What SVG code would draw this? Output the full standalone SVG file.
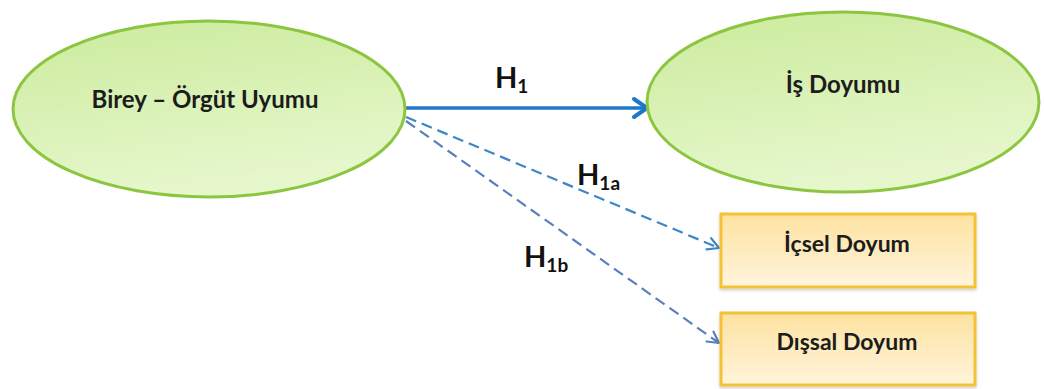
<svg xmlns="http://www.w3.org/2000/svg" width="1044" height="389" viewBox="0 0 1044 389">
  <defs>
    <linearGradient id="greenFill" x1="0" y1="0" x2="0.3" y2="1">
      <stop offset="0" stop-color="#cbeb9c"/>
      <stop offset="1" stop-color="#e6f7cc"/>
    </linearGradient>
    <linearGradient id="yellowFill" x1="0" y1="0" x2="0" y2="1">
      <stop offset="0" stop-color="#fde2a0"/>
      <stop offset="1" stop-color="#fff4dc"/>
    </linearGradient>
    <!-- open chevron heads, drawn in user units with the tip at the origin -->
    <marker id="arrowSolid" viewBox="-16 -12 20 24" refX="0" refY="0" markerWidth="20" markerHeight="24" markerUnits="userSpaceOnUse" orient="auto">
      <path d="M-13,-9 L0,0 L-13,9" fill="none" stroke="#1f77c9" stroke-width="4" stroke-linecap="round" stroke-linejoin="round"/>
    </marker>
    <marker id="arrowDashA" viewBox="-14 -10 17 20" refX="0" refY="0" markerWidth="17" markerHeight="20" markerUnits="userSpaceOnUse" orient="auto">
      <path d="M-11,-6 L0,0 L-11,6" fill="none" stroke="#3f86c6" stroke-width="2.2" stroke-linecap="round" stroke-linejoin="round"/>
    </marker>
    <marker id="arrowDashB" viewBox="-14 -10 17 20" refX="0" refY="0" markerWidth="17" markerHeight="20" markerUnits="userSpaceOnUse" orient="auto">
      <path d="M-11,-6 L0,0 L-11,6" fill="none" stroke="#5a7fbd" stroke-width="2.2" stroke-linecap="round" stroke-linejoin="round"/>
    </marker>
    <filter id="shadow" x="-10%" y="-10%" width="120%" height="130%">
      <feDropShadow dx="0" dy="2" stdDeviation="1.5" flood-color="#000" flood-opacity="0.18"/>
    </filter>
  </defs>
  <style>
    .ellipse { fill: url(#greenFill); stroke: #8cc640; stroke-width: 3; }
    .box { fill: url(#yellowFill); stroke: #f2c237; stroke-width: 3; filter: url(#shadow); }
    .node-label { font-family: Lato, "Open Sans", "Liberation Sans", sans-serif; font-weight: bold; font-size: 24px; fill: #1c1c1c; text-anchor: middle; }
    .box-label { font-size: 23px; }
    .hyp { font-family: Lato, "Open Sans", "Liberation Sans", sans-serif; font-weight: bold; font-size: 29px; fill: #111; }
    .sub { font-size: 19px; }
    .dashed { fill: none; stroke-width: 2.2; stroke-dasharray: 11 6; }
  </style>

  <rect width="1044" height="389" fill="#ffffff"/>

  <g id="connectors">
    <line x1="406" y1="108" x2="647" y2="108" stroke="#1f77c9" stroke-width="3.5" marker-end="url(#arrowSolid)"/>
    <line class="dashed" x1="406" y1="117" x2="719" y2="248" stroke="#3f86c6" marker-end="url(#arrowDashA)"/>
    <line class="dashed" x1="406" y1="121" x2="719" y2="343" stroke="#5a7fbd" marker-end="url(#arrowDashB)"/>
    <text class="hyp" x="495" y="88">H<tspan class="sub" dy="5">1</tspan></text>
    <text class="hyp" x="577" y="185">H<tspan class="sub" dy="5">1a</tspan></text>
    <text class="hyp" x="524" y="267">H<tspan class="sub" dy="5">1b</tspan></text>
  </g>

  <g id="node-birey-orgut">
    <ellipse class="ellipse" cx="209" cy="109" rx="196" ry="88"/>
    <text class="node-label" x="205" y="108">Birey – Örgüt Uyumu</text>
  </g>

  <g id="node-is-doyumu">
    <ellipse class="ellipse" cx="843" cy="102" rx="196" ry="90"/>
    <text class="node-label" x="843" y="93">İş Doyumu</text>
  </g>

  <g id="node-icsel-doyum">
    <rect class="box" x="721" y="214" width="254" height="73"/>
    <text class="node-label box-label" x="847" y="252">İçsel Doyum</text>
  </g>

  <g id="node-dissal-doyum">
    <rect class="box" x="721" y="313" width="254" height="72"/>
    <text class="node-label box-label" x="847" y="350">Dışsal Doyum</text>
  </g>
</svg>
